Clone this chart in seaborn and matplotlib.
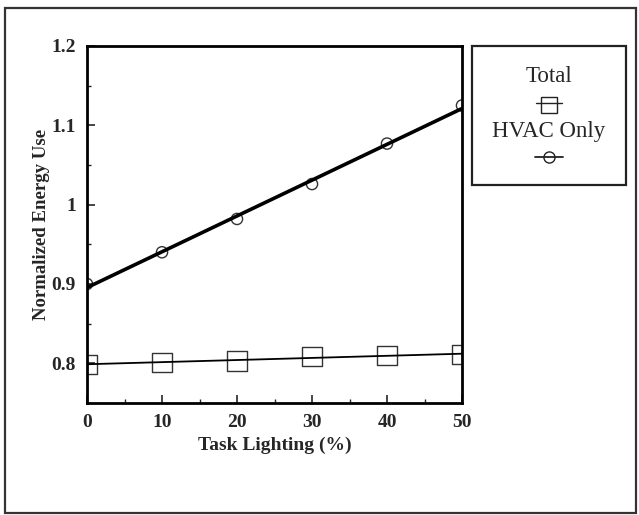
import numpy as np
import pandas as pd
import seaborn as sns
import matplotlib
matplotlib.use("Agg")
import matplotlib.pyplot as plt
from matplotlib.lines import Line2D
from matplotlib.patches import Rectangle
from matplotlib.ticker import MultipleLocator, FixedLocator

task_lighting = [0, 10, 20, 30, 40, 50]
total_use = [0.799, 0.801, 0.803, 0.809, 0.810, 0.811]
hvac_use = [0.900, 0.940, 0.982, 1.026, 1.077, 1.125]
y_ticks = [0.8, 0.9, 1.0, 1.1, 1.2]
y_tick_labels = ["0.8", "0.9", "1", "1.1", "1.2"]
x_ticks = [0, 10, 20, 30, 40, 50]

sns.set_style("white")
plt.rcParams["font.family"] = ["Liberation Serif", "DejaVu Serif"]

df = pd.DataFrame({"x": task_lighting, "total": total_use, "hvac": hvac_use})

fig = plt.figure(figsize=(6.39, 5.15), dpi=100)
ax = fig.add_axes([87/639, 1 - 403/515, 375/639, 357/515])

# fitted lines
sns.regplot(data=df, x="x", y="hvac", ax=ax, ci=None, scatter=False,
            truncate=True, line_kws=dict(color="black", lw=2.6))
sns.regplot(data=df, x="x", y="total", ax=ax, ci=None, scatter=False,
            truncate=True, line_kws=dict(color="black", lw=1.3))
# data markers
sns.scatterplot(data=df, x="x", y="hvac", ax=ax, marker="o", s=65,
                facecolor="none", edgecolor="#333333", linewidth=1.0)
sns.scatterplot(data=df, x="x", y="total", ax=ax, marker="s", s=190,
                facecolor="none", edgecolor="#333333", linewidth=1.0)

ax.set_xlim(0, 50)
ax.set_ylim(0.75, 1.2)
ax.xaxis.set_major_locator(FixedLocator(x_ticks))
ax.xaxis.set_minor_locator(MultipleLocator(5))
ax.yaxis.set_major_locator(FixedLocator(y_ticks))
ax.yaxis.set_minor_locator(MultipleLocator(0.05))
ax.set_yticklabels(y_tick_labels)
ax.tick_params(axis="both", which="major", direction="in", length=6, width=1.2,
               labelsize=14, top=False, right=False, bottom=True, left=True, pad=8)
ax.tick_params(axis="both", which="minor", direction="in", length=3, width=1.0,
               top=False, right=False, bottom=True, left=True)
for lab in ax.get_xticklabels() + ax.get_yticklabels():
    lab.set_fontweight("bold")
for sp in ax.spines.values():
    sp.set_visible(True)
    sp.set_color("black")
    sp.set_linewidth(2.0)

ax.set_xlabel("Task Lighting (%)", fontsize=14, fontweight="bold")
ax.set_ylabel("Normalized Energy Use", fontsize=13.5, fontweight="bold")
ax.xaxis.set_label_coords(0.5, -0.118)
ax.yaxis.set_label_coords(-0.12, 0.5)
ax.yaxis.label.set_va("center")
ax.xaxis.label.set_va("center")

# legend box
fig.add_artist(Rectangle((472/639, 1 - 185/515), 154/639, 139/515,
                         transform=fig.transFigure, fill=False,
                         edgecolor="#222222", lw=1.6))
cx = 549/639
fig.text(cx, 1 - 77/515, "Total", ha="center", va="center", fontsize=16.5)
fig.text(cx, 1 - 131/515, "HVAC Only", ha="center", va="center", fontsize=16.5)
fig.add_artist(Line2D([cx - 13/639, cx + 13/639], [1 - 103/515] * 2,
                      transform=fig.transFigure, color="#222222", lw=1.0))
fig.add_artist(Line2D([cx], [1 - 105/515], transform=fig.transFigure,
                      marker="s", markersize=11, markerfacecolor="none",
                      markeredgecolor="#222222", markeredgewidth=1.0))
fig.add_artist(Line2D([cx - 14/639, cx + 14/639], [1 - 157/515] * 2,
                      transform=fig.transFigure, color="#222222", lw=1.3))
fig.add_artist(Line2D([cx], [1 - 157/515], transform=fig.transFigure,
                      marker="o", markersize=8, markerfacecolor="none",
                      markeredgecolor="#222222", markeredgewidth=1.0))

# outer frame
fig.add_artist(Rectangle((5/639, 2/515), 631/639, 505/515,
                         transform=fig.transFigure, fill=False,
                         edgecolor="#333333", lw=1.6))

fig.savefig("out.png", dpi=100)
